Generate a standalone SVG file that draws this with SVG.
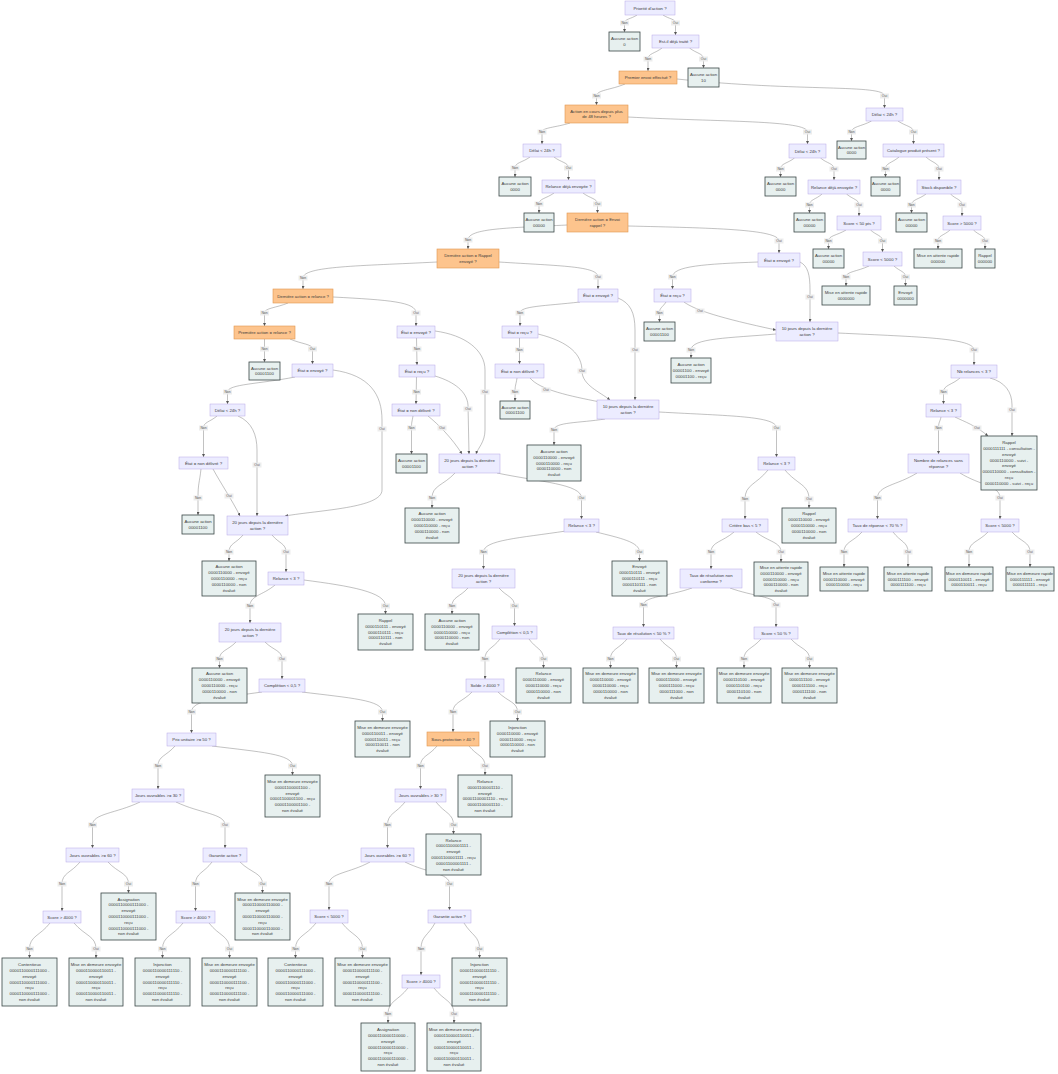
<svg xmlns="http://www.w3.org/2000/svg" width="1058" height="1074" viewBox="0 0 1058 1074">
<defs>
<marker id="arr" viewBox="0 0 6 6" refX="6" refY="3" markerWidth="3" markerHeight="3" markerUnits="userSpaceOnUse" orient="auto"><path d="M0,0L6,3L0,6z" fill="#555"/></marker>
<style>
.d rect{fill:#ECECFF;stroke:#B7A8E6;stroke-width:.5}
.o rect{fill:#FDC48D;stroke:#E2964F;stroke-width:.6}
.l rect{fill:#E7F0EF;stroke:#3A4646;stroke-width:.8}
text{font-family:"Liberation Sans",Arial,sans-serif;font-size:4.3px;fill:#3a3a3a;text-anchor:middle}
#edges path{fill:none;stroke:#777;stroke-width:.45;marker-end:url(#arr)}
.lb rect{fill:#EBEBEB;opacity:.9}
.lb text{font-size:3.4px;fill:#555}
</style>
</defs>
<rect width="1058" height="1074" fill="#fff"/>
<g id="edges">
<path d="M637,15 C631,19 624.5,19 624.5,23 L624.5,32"/>
<path d="M663,15 C669,19 675.5,19 675.5,23 L675.5,35"/>
<path d="M662,48 C655,53.5 648,53.5 648,59 L648,71"/>
<path d="M689.5,48 C696.5,53.5 703.5,53.5 703.5,59 L703.5,68"/>
<path d="M625,84 C610.75,90 596.5,90 596.5,96 L596.5,105"/>
<path d="M677,79 C800,92 884.5,84 884.5,96 L884.5,108"/>
<path d="M570,123 C556,127.5 542,127.5 542,132 L542,144"/>
<path d="M628,117 C720,122 807.5,120 807.5,132 L807.5,144"/>
<path d="M530,157 C522.5,162.5 515,162.5 515,168 L515,177"/>
<path d="M554,157 C561,162.5 568.5,162.5 568.5,168 L568.5,180"/>
<path d="M554,193 C546.5,198.5 539,198.5 539,204 L539,213"/>
<path d="M583,193 C590,198.5 597.5,198.5 597.5,204 L597.5,213"/>
<path d="M567,225 C510,228 468,228 468,240 L468,249"/>
<path d="M628,226 C710,228 779,229 779,241 L779,253"/>
<path d="M871.5,121 C861.5,126.5 851.5,126.5 851.5,132 L851.5,141"/>
<path d="M898,121 C906,126.5 913.5,126.5 913.5,132 L913.5,144"/>
<path d="M794.5,158 C787.5,163.5 780.5,163.5 780.5,169 L780.5,177"/>
<path d="M820.5,158 C827,163.5 834,163.5 834,169 L834,180"/>
<path d="M899,157 C892,163 885.5,163 885.5,169 L885.5,177"/>
<path d="M926,157 C932.5,163 939,163 939,169 L939,180"/>
<path d="M822,194 C816,199.5 809.5,199.5 809.5,205 L809.5,213"/>
<path d="M846.5,194 C853,199.5 859,199.5 859,205 L859,216"/>
<path d="M926,194 C919,199.5 911.5,199.5 911.5,205 L911.5,213"/>
<path d="M950.5,194 C956,199.5 962,199.5 962,205 L962,216"/>
<path d="M846,230 C837,235.5 828.5,235.5 828.5,241 L828.5,249"/>
<path d="M870.5,230 C876.5,235.5 882.5,235.5 882.5,241 L882.5,252"/>
<path d="M950,230 C944,235.5 938,235.5 938,241 L938,249"/>
<path d="M973.5,230 C979,235.5 985,235.5 985,241 L985,249"/>
<path d="M869,266 C857.5,271.5 846,271.5 846,277 L846,286"/>
<path d="M894,266 C900,271.5 905.5,271.5 905.5,277 L905.5,286"/>
<path d="M758,262 C705,264 672.5,266 672.5,277 L672.5,289"/>
<path d="M800,262 C808,266 810,275 810,290 L810,322"/>
<path d="M437,262 C360,266 303,266 303,278 L303,289"/>
<path d="M499,262 C560,266 598,266 598,277 L598,289"/>
<path d="M580,302 C545,306 520,306 520,313 L520,326"/>
<path d="M618,298 C630,303 635,312 635,330 L635,400"/>
<path d="M666,302 C662.5,307.5 659.5,307.5 659.5,313 L659.5,322"/>
<path d="M684,302 C695,310 720,318 776,330"/>
<path d="M776,334 C730,338 691,338 691,350 L691,358"/>
<path d="M838,333 C920,337 974,338 974,350 L974,365"/>
<path d="M519.5,338 L519.5,364"/>
<path d="M538,334 C570,342 582,355 582,371 C582,385 600,392 610,400"/>
<path d="M517,378 C516,385 515,385 515,392 L515,401"/>
<path d="M530,378 C540,390 570,396 600,402"/>
<path d="M605,419 C580,423 554,422 554,430 L554,445"/>
<path d="M659,412 C730,416 776.5,416 776.5,428 L776.5,457"/>
<path d="M768,470 C756.5,484.5 745,484.5 745,499 L745,519"/>
<path d="M785,470 C797,484.5 809,484.5 809,499 L809,508"/>
<path d="M734,532 C722.5,542 711,542 711,552 L711,569"/>
<path d="M756,532 C768.5,542 781,542 781,552 L781,562"/>
<path d="M692,588 C668,596.5 643.5,596.5 643.5,605 L643.5,627"/>
<path d="M730,588 C753,596.5 776,596.5 776,605 L776,627"/>
<path d="M627,639 C619,649 610.5,649 610.5,659 L610.5,668"/>
<path d="M660,639 C668,649 676.5,649 676.5,659 L676.5,668"/>
<path d="M761,639 C752.5,649 744,649 744,659 L744,668"/>
<path d="M791,639 C800,649 809.5,649 809.5,659 L809.5,668"/>
<path d="M960,378 C952,385 943.5,385 943.5,392 L943.5,404"/>
<path d="M990,378 C1005,382 1012,392 1012,405 L1012,436"/>
<path d="M941,417 C940,422 938.5,422 938.5,428 L938.5,454"/>
<path d="M955,417 C965,422 975,425 988,436"/>
<path d="M917,473 C897,485.5 877.5,485.5 877.5,498 L877.5,519"/>
<path d="M960,473 C980,485.5 1000,485.5 1000,498 L1000,519"/>
<path d="M862,532 C853,542 844,542 844,552 L844,567"/>
<path d="M893,532 C900.5,542 908,542 908,552 L908,567"/>
<path d="M988,532 C978.5,542 969,542 969,552 L969,567"/>
<path d="M1012,532 C1021,542 1030,542 1030,552 L1030,567"/>
<path d="M288,303 C276,308 264.5,308 264.5,313 L264.5,326"/>
<path d="M333,297 C390,300 416,302 416,313 L416,326"/>
<path d="M264.5,339 L264.5,362"/>
<path d="M290,339 C301,344 312.5,344 312.5,349 L312.5,364"/>
<path d="M295,377 C260,384 227.5,384 227.5,392 L227.5,404"/>
<path d="M333,370 C370,375 382,395 382,420 L382,490 C382,508 320,510 285,516"/>
<path d="M217,416 C210,422 203.5,422 203.5,428 L203.5,457"/>
<path d="M238,416 C252,422 257,435 257,450 L257,516"/>
<path d="M201,469 C199.5,483 198,483 198,498 L198,515"/>
<path d="M213,469 C220,482 232,500 240,516"/>
<path d="M416.5,338 L417,365"/>
<path d="M435,331 C465,335 485,350 485,370 L485,430 C485,442 478,448 476,454"/>
<path d="M416.5,377 L416,404"/>
<path d="M435,376 C455,382 467,392 468,405 L469,454"/>
<path d="M413,416 C412,422 411.5,422 411.5,428 L411.5,454"/>
<path d="M428,416 C438,424 452,438 462,454"/>
<path d="M455,473 C443.5,485.5 432,485.5 432,498 L432,508"/>
<path d="M497,473 C540,482 581.5,484 581.5,498 L581.5,519"/>
<path d="M566,531 C520,538 483.5,540 483.5,552 L483.5,569"/>
<path d="M596,532 C620,538 639.5,542 639.5,552 L639.5,561"/>
<path d="M468,588 C460,597 452,597 452,606 L452,614"/>
<path d="M499,588 C507,597 514.5,597 514.5,606 L514.5,626"/>
<path d="M500,639 C492.5,649 485,649 485,659 L485,679"/>
<path d="M529,639 C536,649 543.5,649 543.5,659 L543.5,668"/>
<path d="M472,692 C462.5,702 453,702 453,712 L453,732"/>
<path d="M498,692 C508,702 517.5,702 517.5,712 L517.5,721"/>
<path d="M437,746 C429,756 420.5,756 420.5,766 L420.5,789"/>
<path d="M469,746 C477,756 485,756 485,766 L485,775"/>
<path d="M405,802 C396,813.5 387.5,813.5 387.5,825 L387.5,848"/>
<path d="M436,802 C445,813.5 453.5,813.5 453.5,825 L453.5,834"/>
<path d="M370,862 C350,873 329,873 329,884 L329,910"/>
<path d="M405,862 C427,873 449.5,873 449.5,884 L449.5,910"/>
<path d="M316,923 C306,936 295.5,936 295.5,949 L295.5,958"/>
<path d="M342,923 C352,936 362.5,936 362.5,949 L362.5,958"/>
<path d="M435,923 C428,936 421,936 421,949 L421,975"/>
<path d="M464,923 C472,936 479.5,936 479.5,949 L479.5,958"/>
<path d="M408,988 C398,1001 388,1001 388,1014 L388,1023"/>
<path d="M434,988 C444,1001 454,1001 454,1014 L454,1023"/>
<path d="M243,535 C236,543.5 229,543.5 229,552 L229,561"/>
<path d="M272,535 C279,543.5 286,543.5 286,552 L286,572"/>
<path d="M275,585 C262.5,595.5 250,595.5 250,606 L250,623"/>
<path d="M304,580 C350,586 385.5,592 385.5,606 L385.5,614"/>
<path d="M236,642 C228,650.5 219.5,650.5 219.5,659 L219.5,668"/>
<path d="M265,642 C273.5,650.5 282,650.5 282,659 L282,679"/>
<path d="M262,692 C220,698 191.5,700 191.5,712 L191.5,733"/>
<path d="M302,692 C350,698 382.5,700 382.5,712 L382.5,721"/>
<path d="M175,746 C166.5,756 158,756 158,766 L158,789"/>
<path d="M212,746 C260,752 292.5,754 292.5,766 L292.5,775"/>
<path d="M140,802 C116,813.5 92.5,813.5 92.5,825 L92.5,848"/>
<path d="M176,802 C200,813.5 225,813.5 225,825 L225,848"/>
<path d="M80,862 C71,873 62,873 62,884 L62,911"/>
<path d="M108,862 C118,873 128.5,873 128.5,884 L128.5,893"/>
<path d="M212,862 C204,873 195.5,873 195.5,884 L195.5,911"/>
<path d="M240,862 C251,873 262.5,873 262.5,884 L262.5,893"/>
<path d="M50,923 C40,936 29.5,936 29.5,949 L29.5,958"/>
<path d="M74,923 C85,936 96,936 96,949 L96,958"/>
<path d="M183,923 C173,936 162.5,936 162.5,949 L162.5,958"/>
<path d="M209,923 C219,936 229.5,936 229.5,949 L229.5,958"/>
</g>
<g id="edge-labels" class="lb">
<g transform="translate(624.5,23)"><rect x="-4.5" y="-2.5" width="9" height="5"/><text y="1.2">Non</text></g>
<g transform="translate(675.5,23)"><rect x="-4.5" y="-2.5" width="9" height="5"/><text y="1.2">Oui</text></g>
<g transform="translate(648,59)"><rect x="-4.5" y="-2.5" width="9" height="5"/><text y="1.2">Non</text></g>
<g transform="translate(703.5,59)"><rect x="-4.5" y="-2.5" width="9" height="5"/><text y="1.2">Oui</text></g>
<g transform="translate(596.5,96)"><rect x="-4.5" y="-2.5" width="9" height="5"/><text y="1.2">Non</text></g>
<g transform="translate(884.5,96)"><rect x="-4.5" y="-2.5" width="9" height="5"/><text y="1.2">Oui</text></g>
<g transform="translate(542,132)"><rect x="-4.5" y="-2.5" width="9" height="5"/><text y="1.2">Non</text></g>
<g transform="translate(807.5,132)"><rect x="-4.5" y="-2.5" width="9" height="5"/><text y="1.2">Oui</text></g>
<g transform="translate(515,168)"><rect x="-4.5" y="-2.5" width="9" height="5"/><text y="1.2">Non</text></g>
<g transform="translate(568.5,168)"><rect x="-4.5" y="-2.5" width="9" height="5"/><text y="1.2">Oui</text></g>
<g transform="translate(539,204)"><rect x="-4.5" y="-2.5" width="9" height="5"/><text y="1.2">Non</text></g>
<g transform="translate(597.5,204)"><rect x="-4.5" y="-2.5" width="9" height="5"/><text y="1.2">Oui</text></g>
<g transform="translate(468,240)"><rect x="-4.5" y="-2.5" width="9" height="5"/><text y="1.2">Non</text></g>
<g transform="translate(779,241)"><rect x="-4.5" y="-2.5" width="9" height="5"/><text y="1.2">Oui</text></g>
<g transform="translate(851.5,132)"><rect x="-4.5" y="-2.5" width="9" height="5"/><text y="1.2">Non</text></g>
<g transform="translate(913.5,132)"><rect x="-4.5" y="-2.5" width="9" height="5"/><text y="1.2">Oui</text></g>
<g transform="translate(780.5,169)"><rect x="-4.5" y="-2.5" width="9" height="5"/><text y="1.2">Non</text></g>
<g transform="translate(834,169)"><rect x="-4.5" y="-2.5" width="9" height="5"/><text y="1.2">Oui</text></g>
<g transform="translate(885.5,169)"><rect x="-4.5" y="-2.5" width="9" height="5"/><text y="1.2">Non</text></g>
<g transform="translate(939,169)"><rect x="-4.5" y="-2.5" width="9" height="5"/><text y="1.2">Oui</text></g>
<g transform="translate(809.5,205)"><rect x="-4.5" y="-2.5" width="9" height="5"/><text y="1.2">Non</text></g>
<g transform="translate(859,205)"><rect x="-4.5" y="-2.5" width="9" height="5"/><text y="1.2">Oui</text></g>
<g transform="translate(911.5,205)"><rect x="-4.5" y="-2.5" width="9" height="5"/><text y="1.2">Non</text></g>
<g transform="translate(962,205)"><rect x="-4.5" y="-2.5" width="9" height="5"/><text y="1.2">Oui</text></g>
<g transform="translate(828.5,241)"><rect x="-4.5" y="-2.5" width="9" height="5"/><text y="1.2">Non</text></g>
<g transform="translate(882.5,241)"><rect x="-4.5" y="-2.5" width="9" height="5"/><text y="1.2">Oui</text></g>
<g transform="translate(938,241)"><rect x="-4.5" y="-2.5" width="9" height="5"/><text y="1.2">Non</text></g>
<g transform="translate(985,241)"><rect x="-4.5" y="-2.5" width="9" height="5"/><text y="1.2">Oui</text></g>
<g transform="translate(846,277)"><rect x="-4.5" y="-2.5" width="9" height="5"/><text y="1.2">Non</text></g>
<g transform="translate(905.5,277)"><rect x="-4.5" y="-2.5" width="9" height="5"/><text y="1.2">Oui</text></g>
<g transform="translate(672.5,277)"><rect x="-4.5" y="-2.5" width="9" height="5"/><text y="1.2">Non</text></g>
<g transform="translate(810,297)"><rect x="-4.5" y="-2.5" width="9" height="5"/><text y="1.2">Oui</text></g>
<g transform="translate(303,278)"><rect x="-4.5" y="-2.5" width="9" height="5"/><text y="1.2">Non</text></g>
<g transform="translate(598,277)"><rect x="-4.5" y="-2.5" width="9" height="5"/><text y="1.2">Oui</text></g>
<g transform="translate(520,313)"><rect x="-4.5" y="-2.5" width="9" height="5"/><text y="1.2">Non</text></g>
<g transform="translate(635,350)"><rect x="-4.5" y="-2.5" width="9" height="5"/><text y="1.2">Oui</text></g>
<g transform="translate(659.5,313)"><rect x="-4.5" y="-2.5" width="9" height="5"/><text y="1.2">Non</text></g>
<g transform="translate(700,311)"><rect x="-4.5" y="-2.5" width="9" height="5"/><text y="1.2">Oui</text></g>
<g transform="translate(691,350)"><rect x="-4.5" y="-2.5" width="9" height="5"/><text y="1.2">Non</text></g>
<g transform="translate(974,350)"><rect x="-4.5" y="-2.5" width="9" height="5"/><text y="1.2">Oui</text></g>
<g transform="translate(519.5,350)"><rect x="-4.5" y="-2.5" width="9" height="5"/><text y="1.2">Non</text></g>
<g transform="translate(582,371)"><rect x="-4.5" y="-2.5" width="9" height="5"/><text y="1.2">Oui</text></g>
<g transform="translate(515,392)"><rect x="-4.5" y="-2.5" width="9" height="5"/><text y="1.2">Non</text></g>
<g transform="translate(546,390)"><rect x="-4.5" y="-2.5" width="9" height="5"/><text y="1.2">Oui</text></g>
<g transform="translate(554,430)"><rect x="-4.5" y="-2.5" width="9" height="5"/><text y="1.2">Non</text></g>
<g transform="translate(776.5,428)"><rect x="-4.5" y="-2.5" width="9" height="5"/><text y="1.2">Oui</text></g>
<g transform="translate(745,499)"><rect x="-4.5" y="-2.5" width="9" height="5"/><text y="1.2">Non</text></g>
<g transform="translate(809,499)"><rect x="-4.5" y="-2.5" width="9" height="5"/><text y="1.2">Oui</text></g>
<g transform="translate(711,552)"><rect x="-4.5" y="-2.5" width="9" height="5"/><text y="1.2">Non</text></g>
<g transform="translate(781,552)"><rect x="-4.5" y="-2.5" width="9" height="5"/><text y="1.2">Oui</text></g>
<g transform="translate(643.5,605)"><rect x="-4.5" y="-2.5" width="9" height="5"/><text y="1.2">Non</text></g>
<g transform="translate(776,605)"><rect x="-4.5" y="-2.5" width="9" height="5"/><text y="1.2">Oui</text></g>
<g transform="translate(610.5,659)"><rect x="-4.5" y="-2.5" width="9" height="5"/><text y="1.2">Non</text></g>
<g transform="translate(676.5,659)"><rect x="-4.5" y="-2.5" width="9" height="5"/><text y="1.2">Oui</text></g>
<g transform="translate(744,659)"><rect x="-4.5" y="-2.5" width="9" height="5"/><text y="1.2">Non</text></g>
<g transform="translate(809.5,659)"><rect x="-4.5" y="-2.5" width="9" height="5"/><text y="1.2">Oui</text></g>
<g transform="translate(943.5,392)"><rect x="-4.5" y="-2.5" width="9" height="5"/><text y="1.2">Non</text></g>
<g transform="translate(1012,410)"><rect x="-4.5" y="-2.5" width="9" height="5"/><text y="1.2">Oui</text></g>
<g transform="translate(938.5,428)"><rect x="-4.5" y="-2.5" width="9" height="5"/><text y="1.2">Non</text></g>
<g transform="translate(977,428)"><rect x="-4.5" y="-2.5" width="9" height="5"/><text y="1.2">Oui</text></g>
<g transform="translate(877.5,498)"><rect x="-4.5" y="-2.5" width="9" height="5"/><text y="1.2">Non</text></g>
<g transform="translate(1000,498)"><rect x="-4.5" y="-2.5" width="9" height="5"/><text y="1.2">Oui</text></g>
<g transform="translate(844,552)"><rect x="-4.5" y="-2.5" width="9" height="5"/><text y="1.2">Non</text></g>
<g transform="translate(908,552)"><rect x="-4.5" y="-2.5" width="9" height="5"/><text y="1.2">Oui</text></g>
<g transform="translate(969,552)"><rect x="-4.5" y="-2.5" width="9" height="5"/><text y="1.2">Non</text></g>
<g transform="translate(1030,552)"><rect x="-4.5" y="-2.5" width="9" height="5"/><text y="1.2">Oui</text></g>
<g transform="translate(264.5,313)"><rect x="-4.5" y="-2.5" width="9" height="5"/><text y="1.2">Non</text></g>
<g transform="translate(416,313)"><rect x="-4.5" y="-2.5" width="9" height="5"/><text y="1.2">Oui</text></g>
<g transform="translate(264.5,349)"><rect x="-4.5" y="-2.5" width="9" height="5"/><text y="1.2">Non</text></g>
<g transform="translate(312.5,349)"><rect x="-4.5" y="-2.5" width="9" height="5"/><text y="1.2">Oui</text></g>
<g transform="translate(227.5,392)"><rect x="-4.5" y="-2.5" width="9" height="5"/><text y="1.2">Non</text></g>
<g transform="translate(382,429)"><rect x="-4.5" y="-2.5" width="9" height="5"/><text y="1.2">Oui</text></g>
<g transform="translate(203.5,428)"><rect x="-4.5" y="-2.5" width="9" height="5"/><text y="1.2">Non</text></g>
<g transform="translate(257,465)"><rect x="-4.5" y="-2.5" width="9" height="5"/><text y="1.2">Oui</text></g>
<g transform="translate(198,498)"><rect x="-4.5" y="-2.5" width="9" height="5"/><text y="1.2">Non</text></g>
<g transform="translate(229,496)"><rect x="-4.5" y="-2.5" width="9" height="5"/><text y="1.2">Oui</text></g>
<g transform="translate(417,349)"><rect x="-4.5" y="-2.5" width="9" height="5"/><text y="1.2">Non</text></g>
<g transform="translate(485,392)"><rect x="-4.5" y="-2.5" width="9" height="5"/><text y="1.2">Oui</text></g>
<g transform="translate(416.5,392)"><rect x="-4.5" y="-2.5" width="9" height="5"/><text y="1.2">Non</text></g>
<g transform="translate(468,409)"><rect x="-4.5" y="-2.5" width="9" height="5"/><text y="1.2">Oui</text></g>
<g transform="translate(411.5,428)"><rect x="-4.5" y="-2.5" width="9" height="5"/><text y="1.2">Non</text></g>
<g transform="translate(442,428)"><rect x="-4.5" y="-2.5" width="9" height="5"/><text y="1.2">Oui</text></g>
<g transform="translate(432,498)"><rect x="-4.5" y="-2.5" width="9" height="5"/><text y="1.2">Non</text></g>
<g transform="translate(581.5,498)"><rect x="-4.5" y="-2.5" width="9" height="5"/><text y="1.2">Oui</text></g>
<g transform="translate(483.5,552)"><rect x="-4.5" y="-2.5" width="9" height="5"/><text y="1.2">Non</text></g>
<g transform="translate(639.5,552)"><rect x="-4.5" y="-2.5" width="9" height="5"/><text y="1.2">Oui</text></g>
<g transform="translate(452,606)"><rect x="-4.5" y="-2.5" width="9" height="5"/><text y="1.2">Non</text></g>
<g transform="translate(514.5,606)"><rect x="-4.5" y="-2.5" width="9" height="5"/><text y="1.2">Oui</text></g>
<g transform="translate(485,659)"><rect x="-4.5" y="-2.5" width="9" height="5"/><text y="1.2">Non</text></g>
<g transform="translate(543.5,659)"><rect x="-4.5" y="-2.5" width="9" height="5"/><text y="1.2">Oui</text></g>
<g transform="translate(453,712)"><rect x="-4.5" y="-2.5" width="9" height="5"/><text y="1.2">Non</text></g>
<g transform="translate(517.5,712)"><rect x="-4.5" y="-2.5" width="9" height="5"/><text y="1.2">Oui</text></g>
<g transform="translate(420.5,766)"><rect x="-4.5" y="-2.5" width="9" height="5"/><text y="1.2">Non</text></g>
<g transform="translate(485,766)"><rect x="-4.5" y="-2.5" width="9" height="5"/><text y="1.2">Oui</text></g>
<g transform="translate(387.5,825)"><rect x="-4.5" y="-2.5" width="9" height="5"/><text y="1.2">Non</text></g>
<g transform="translate(453.5,825)"><rect x="-4.5" y="-2.5" width="9" height="5"/><text y="1.2">Oui</text></g>
<g transform="translate(329,884)"><rect x="-4.5" y="-2.5" width="9" height="5"/><text y="1.2">Non</text></g>
<g transform="translate(449.5,884)"><rect x="-4.5" y="-2.5" width="9" height="5"/><text y="1.2">Oui</text></g>
<g transform="translate(295.5,949)"><rect x="-4.5" y="-2.5" width="9" height="5"/><text y="1.2">Non</text></g>
<g transform="translate(362.5,949)"><rect x="-4.5" y="-2.5" width="9" height="5"/><text y="1.2">Oui</text></g>
<g transform="translate(421,949)"><rect x="-4.5" y="-2.5" width="9" height="5"/><text y="1.2">Non</text></g>
<g transform="translate(479.5,949)"><rect x="-4.5" y="-2.5" width="9" height="5"/><text y="1.2">Oui</text></g>
<g transform="translate(388,1014)"><rect x="-4.5" y="-2.5" width="9" height="5"/><text y="1.2">Non</text></g>
<g transform="translate(454,1014)"><rect x="-4.5" y="-2.5" width="9" height="5"/><text y="1.2">Oui</text></g>
<g transform="translate(229,552)"><rect x="-4.5" y="-2.5" width="9" height="5"/><text y="1.2">Non</text></g>
<g transform="translate(286,552)"><rect x="-4.5" y="-2.5" width="9" height="5"/><text y="1.2">Oui</text></g>
<g transform="translate(250,606)"><rect x="-4.5" y="-2.5" width="9" height="5"/><text y="1.2">Non</text></g>
<g transform="translate(385.5,606)"><rect x="-4.5" y="-2.5" width="9" height="5"/><text y="1.2">Oui</text></g>
<g transform="translate(219.5,659)"><rect x="-4.5" y="-2.5" width="9" height="5"/><text y="1.2">Non</text></g>
<g transform="translate(282,659)"><rect x="-4.5" y="-2.5" width="9" height="5"/><text y="1.2">Oui</text></g>
<g transform="translate(191.5,712)"><rect x="-4.5" y="-2.5" width="9" height="5"/><text y="1.2">Non</text></g>
<g transform="translate(382.5,712)"><rect x="-4.5" y="-2.5" width="9" height="5"/><text y="1.2">Oui</text></g>
<g transform="translate(158,766)"><rect x="-4.5" y="-2.5" width="9" height="5"/><text y="1.2">Non</text></g>
<g transform="translate(292.5,766)"><rect x="-4.5" y="-2.5" width="9" height="5"/><text y="1.2">Oui</text></g>
<g transform="translate(92.5,825)"><rect x="-4.5" y="-2.5" width="9" height="5"/><text y="1.2">Non</text></g>
<g transform="translate(225,825)"><rect x="-4.5" y="-2.5" width="9" height="5"/><text y="1.2">Oui</text></g>
<g transform="translate(62,884)"><rect x="-4.5" y="-2.5" width="9" height="5"/><text y="1.2">Non</text></g>
<g transform="translate(128.5,884)"><rect x="-4.5" y="-2.5" width="9" height="5"/><text y="1.2">Oui</text></g>
<g transform="translate(195.5,884)"><rect x="-4.5" y="-2.5" width="9" height="5"/><text y="1.2">Non</text></g>
<g transform="translate(262.5,884)"><rect x="-4.5" y="-2.5" width="9" height="5"/><text y="1.2">Oui</text></g>
<g transform="translate(29.5,949)"><rect x="-4.5" y="-2.5" width="9" height="5"/><text y="1.2">Non</text></g>
<g transform="translate(96,949)"><rect x="-4.5" y="-2.5" width="9" height="5"/><text y="1.2">Oui</text></g>
<g transform="translate(162.5,949)"><rect x="-4.5" y="-2.5" width="9" height="5"/><text y="1.2">Non</text></g>
<g transform="translate(229.5,949)"><rect x="-4.5" y="-2.5" width="9" height="5"/><text y="1.2">Oui</text></g>
</g>
<g id="nodes">
<g id="n1" class="d"><rect x="625" y="1" width="50" height="14"/><text x="650" y="9.5">Priorité d'action ?</text></g>
<g id="n2" class="l"><rect x="609" y="32" width="31" height="19"/><text><tspan x="624.5" y="40.1">Aucune action</tspan><tspan x="624.5" y="45.9">0</tspan></text></g>
<g id="n3" class="d"><rect x="652" y="35" width="47" height="13"/><text x="675.5" y="43">Est-il déjà traité ?</text></g>
<g id="n4" class="o"><rect x="619" y="71" width="58" height="13"/><text x="648" y="79">Premier envoi effectué ?</text></g>
<g id="n5" class="l"><rect x="688" y="68" width="31" height="19"/><text><tspan x="703.5" y="76.1">Aucune action</tspan><tspan x="703.5" y="81.9">10</tspan></text></g>
<g id="n6" class="o"><rect x="565" y="105" width="63" height="18"/><text><tspan x="596.5" y="112.9">Action en cours depuis plus</tspan><tspan x="596.5" y="118.1">de 48 heures ?</tspan></text></g>
<g id="n7" class="d"><rect x="523" y="144" width="38" height="13"/><text x="542" y="152">Délai &lt; 24h ?</text></g>
<g id="n8" class="l"><rect x="499" y="177" width="32" height="19"/><text><tspan x="515" y="185.1">Aucune action</tspan><tspan x="515" y="190.9">0000</tspan></text></g>
<g id="n9" class="d"><rect x="542" y="180" width="53" height="13"/><text x="568.5" y="188">Relance déjà envoyée ?</text></g>
<g id="n10" class="l"><rect x="524" y="213" width="30" height="19"/><text><tspan x="539" y="221.1">Aucune action</tspan><tspan x="539" y="226.9">00000</tspan></text></g>
<g id="n11" class="o"><rect x="567" y="213" width="61" height="19"/><text><tspan x="597.5" y="221.4">Dernière action = Envoi</tspan><tspan x="597.5" y="226.6">rappel ?</tspan></text></g>
<g id="n12" class="d"><rect x="866" y="108" width="37" height="13"/><text x="884.5" y="116">Délai &lt; 24h ?</text></g>
<g id="n13" class="l"><rect x="837" y="141" width="29" height="18"/><text><tspan x="851.5" y="148.6">Aucune action</tspan><tspan x="851.5" y="154.4">0000</tspan></text></g>
<g id="n14" class="d"><rect x="883" y="144" width="61" height="13"/><text x="913.5" y="152">Catalogue produit présent ?</text></g>
<g id="n15" class="d"><rect x="789" y="144" width="37" height="14"/><text x="807.5" y="152.5">Délai &lt; 24h ?</text></g>
<g id="n16" class="l"><rect x="765" y="177" width="31" height="19"/><text><tspan x="780.5" y="185.1">Aucune action</tspan><tspan x="780.5" y="190.9">0000</tspan></text></g>
<g id="n17" class="d"><rect x="808" y="180" width="52" height="14"/><text x="834" y="188.5">Relance déjà envoyée ?</text></g>
<g id="n18" class="l"><rect x="871" y="177" width="29" height="19"/><text><tspan x="885.5" y="185.1">Aucune action</tspan><tspan x="885.5" y="190.9">0000</tspan></text></g>
<g id="n19" class="d"><rect x="917" y="180" width="44" height="14"/><text x="939" y="188.5">Stock disponible ?</text></g>
<g id="n20" class="l"><rect x="794" y="213" width="31" height="19"/><text><tspan x="809.5" y="221.1">Aucune action</tspan><tspan x="809.5" y="226.9">00000</tspan></text></g>
<g id="n21" class="d"><rect x="837" y="216" width="44" height="14"/><text x="859" y="224.5">Score &lt; 50 pts ?</text></g>
<g id="n22" class="l"><rect x="896" y="213" width="31" height="19"/><text><tspan x="911.5" y="221.1">Aucune action</tspan><tspan x="911.5" y="226.9">00000</tspan></text></g>
<g id="n23" class="d"><rect x="943" y="216" width="38" height="14"/><text x="962" y="224.5">Score &gt; 5000 ?</text></g>
<g id="n24" class="l"><rect x="813" y="249" width="31" height="19"/><text><tspan x="828.5" y="257.1">Aucune action</tspan><tspan x="828.5" y="262.9">00000</tspan></text></g>
<g id="n25" class="d"><rect x="863" y="252" width="39" height="14"/><text x="882.5" y="260.5">Score &lt; 5000 ?</text></g>
<g id="n26" class="l"><rect x="914" y="249" width="48" height="19"/><text><tspan x="938" y="257.1">Mise en attente rapide</tspan><tspan x="938" y="262.9">000000</tspan></text></g>
<g id="n27" class="l"><rect x="975" y="249" width="20" height="19"/><text><tspan x="985" y="257.1">Rappel</tspan><tspan x="985" y="262.9">000000</tspan></text></g>
<g id="n28" class="l"><rect x="822" y="286" width="48" height="19"/><text><tspan x="846" y="294.1">Mise en attente rapide</tspan><tspan x="846" y="299.9">0000000</tspan></text></g>
<g id="n29" class="l"><rect x="894" y="286" width="23" height="19"/><text><tspan x="905.5" y="294.1">Envoyé</tspan><tspan x="905.5" y="299.9">0000000</tspan></text></g>
<g id="n30" class="d"><rect x="758" y="253" width="42" height="14"/><text x="779" y="261.5">État = envoyé ?</text></g>
<g id="n31" class="o"><rect x="437" y="249" width="62" height="19"/><text><tspan x="468" y="257.4">Dernière action = Rappel</tspan><tspan x="468" y="262.6">envoyé ?</tspan></text></g>
<g id="n32" class="d"><rect x="578" y="289" width="40" height="13"/><text x="598" y="297">État = envoyé ?</text></g>
<g id="n33" class="d"><rect x="776" y="322" width="62" height="19"/><text><tspan x="807" y="330.4">10 jours depuis la dernière</tspan><tspan x="807" y="335.6">action ?</tspan></text></g>
<g id="n34" class="d"><rect x="654" y="289" width="37" height="13"/><text x="672.5" y="297">État = reçu ?</text></g>
<g id="n35" class="l"><rect x="644" y="322" width="31" height="19"/><text><tspan x="659.5" y="330.1">Aucune action</tspan><tspan x="659.5" y="335.9">00001100</tspan></text></g>
<g id="n36" class="l"><rect x="671" y="358" width="40" height="25"/><text><tspan x="691" y="366.2">Aucune action</tspan><tspan x="691" y="372">00001100 - envoyé</tspan><tspan x="691" y="377.8">00001100 - reçu</tspan></text></g>
<g id="n37" class="d"><rect x="502" y="326" width="36" height="12"/><text x="520" y="333.5">État = reçu ?</text></g>
<g id="n38" class="d"><rect x="495" y="364" width="49" height="14"/><text x="519.5" y="372.5">État = non délivré ?</text></g>
<g id="n39" class="l"><rect x="500" y="401" width="30" height="18"/><text><tspan x="515" y="408.6">Aucune action</tspan><tspan x="515" y="414.4">00001100</tspan></text></g>
<g id="n40" class="d"><rect x="597" y="400" width="62" height="19"/><text><tspan x="628" y="408.4">10 jours depuis la dernière</tspan><tspan x="628" y="413.6">action ?</tspan></text></g>
<g id="n41" class="l"><rect x="527" y="445" width="54" height="36"/><text><tspan x="554" y="452.9">Aucune action</tspan><tspan x="554" y="458.7">0000110000 - envoyé</tspan><tspan x="554" y="464.5">0000110000 - reçu</tspan><tspan x="554" y="470.3">0000110000 - non</tspan><tspan x="554" y="476.1">évalué</tspan></text></g>
<g id="n42" class="d"><rect x="758" y="457" width="37" height="13"/><text x="776.5" y="465">Relance &lt; 3 ?</text></g>
<g id="n43" class="d"><rect x="951" y="365" width="46" height="13"/><text x="974" y="373">Nb relances &lt; 3 ?</text></g>
<g id="n44" class="d"><rect x="926" y="404" width="35" height="13"/><text x="943.5" y="412">Relance &lt; 3 ?</text></g>
<g id="n45" class="l"><rect x="981" y="436" width="56" height="54"/><text><tspan x="1009" y="444.2">Rappel</tspan><tspan x="1009" y="450">0000111111 - consultation -</tspan><tspan x="1009" y="455.8">envoyé</tspan><tspan x="1009" y="461.6">0000110000 - suivi -</tspan><tspan x="1009" y="467.4">envoyé</tspan><tspan x="1009" y="473.2">0000110000 - consultation -</tspan><tspan x="1009" y="479">reçu</tspan><tspan x="1009" y="484.8">0000110000 - suivi - reçu</tspan></text></g>
<g id="n46" class="d"><rect x="908" y="454" width="61" height="19"/><text><tspan x="938.5" y="462.4">Nombre de relances sans</tspan><tspan x="938.5" y="467.6">réponse ?</tspan></text></g>
<g id="n47" class="d"><rect x="848" y="519" width="59" height="13"/><text x="877.5" y="527">Taux de réponse &lt; 70 % ?</text></g>
<g id="n48" class="d"><rect x="981" y="519" width="38" height="13"/><text x="1000" y="527">Score &lt; 5000 ?</text></g>
<g id="n49" class="l"><rect x="820" y="567" width="48" height="24"/><text><tspan x="844" y="574.7">Mise en attente rapide</tspan><tspan x="844" y="580.5">0000110000 - envoyé</tspan><tspan x="844" y="586.3">0000110000 - reçu</tspan></text></g>
<g id="n50" class="l"><rect x="884" y="567" width="48" height="24"/><text><tspan x="908" y="574.7">Mise en attente rapide</tspan><tspan x="908" y="580.5">0000111100 - envoyé</tspan><tspan x="908" y="586.3">0000111100 - reçu</tspan></text></g>
<g id="n51" class="l"><rect x="945" y="567" width="48" height="24"/><text><tspan x="969" y="574.7">Mise en demeure rapide</tspan><tspan x="969" y="580.5">0000110011 - envoyé</tspan><tspan x="969" y="586.3">0000110011 - reçu</tspan></text></g>
<g id="n52" class="l"><rect x="1006" y="567" width="48" height="24"/><text><tspan x="1030" y="574.7">Mise en demeure rapide</tspan><tspan x="1030" y="580.5">0000111111 - envoyé</tspan><tspan x="1030" y="586.3">0000111111 - reçu</tspan></text></g>
<g id="n53" class="d"><rect x="722" y="519" width="46" height="13"/><text x="745" y="527">Critère bas &lt; 5 ?</text></g>
<g id="n54" class="l"><rect x="782" y="508" width="54" height="35"/><text><tspan x="809" y="515.4">Rappel</tspan><tspan x="809" y="521.2">0000110000 - envoyé</tspan><tspan x="809" y="527">0000110000 - reçu</tspan><tspan x="809" y="532.8">0000110000 - non</tspan><tspan x="809" y="538.6">évalué</tspan></text></g>
<g id="n55" class="d"><rect x="680" y="569" width="62" height="19"/><text><tspan x="711" y="577.4">Taux de résolution non</tspan><tspan x="711" y="582.6">conforme ?</tspan></text></g>
<g id="n56" class="l"><rect x="754" y="562" width="54" height="34"/><text><tspan x="781" y="568.9">Mise en attente rapide</tspan><tspan x="781" y="574.7">0000110000 - envoyé</tspan><tspan x="781" y="580.5">0000110000 - reçu</tspan><tspan x="781" y="586.3">0000110000 - non</tspan><tspan x="781" y="592.1">évalué</tspan></text></g>
<g id="n57" class="d"><rect x="613" y="627" width="61" height="12"/><text x="643.5" y="634.5">Taux de résolution &lt; 50 % ?</text></g>
<g id="n58" class="d"><rect x="754" y="627" width="44" height="12"/><text x="776" y="634.5">Score &lt; 50 % ?</text></g>
<g id="n59" class="l"><rect x="583" y="668" width="55" height="35"/><text><tspan x="610.5" y="675.4">Mise en demeure envoyée</tspan><tspan x="610.5" y="681.2">0000110000 - envoyé</tspan><tspan x="610.5" y="687">0000110000 - reçu</tspan><tspan x="610.5" y="692.8">0000110000 - non</tspan><tspan x="610.5" y="698.6">évalué</tspan></text></g>
<g id="n60" class="l"><rect x="649" y="668" width="55" height="35"/><text><tspan x="676.5" y="675.4">Mise en demeure envoyée</tspan><tspan x="676.5" y="681.2">0000111000 - envoyé</tspan><tspan x="676.5" y="687">0000111000 - reçu</tspan><tspan x="676.5" y="692.8">0000111000 - non</tspan><tspan x="676.5" y="698.6">évalué</tspan></text></g>
<g id="n61" class="l"><rect x="717" y="668" width="54" height="35"/><text><tspan x="744" y="675.4">Mise en demeure envoyée</tspan><tspan x="744" y="681.2">0000110100 - envoyé</tspan><tspan x="744" y="687">0000110100 - reçu</tspan><tspan x="744" y="692.8">0000110100 - non</tspan><tspan x="744" y="698.6">évalué</tspan></text></g>
<g id="n62" class="l"><rect x="782" y="668" width="55" height="35"/><text><tspan x="809.5" y="675.4">Mise en demeure envoyée</tspan><tspan x="809.5" y="681.2">0000111100 - envoyé</tspan><tspan x="809.5" y="687">0000111100 - reçu</tspan><tspan x="809.5" y="692.8">0000111100 - non</tspan><tspan x="809.5" y="698.6">évalué</tspan></text></g>
<g id="n63" class="l"><rect x="612" y="561" width="55" height="35"/><text><tspan x="639.5" y="568.4">Envoyé</tspan><tspan x="639.5" y="574.2">0000110111 - envoyé</tspan><tspan x="639.5" y="580">0000110111 - reçu</tspan><tspan x="639.5" y="585.8">0000110111 - non</tspan><tspan x="639.5" y="591.6">évalué</tspan></text></g>
<g id="n64" class="l"><rect x="396" y="454" width="31" height="19"/><text><tspan x="411.5" y="462.1">Aucune action</tspan><tspan x="411.5" y="467.9">00001100</tspan></text></g>
<g id="n65" class="d"><rect x="439" y="454" width="61" height="19"/><text><tspan x="469.5" y="462.4">20 jours depuis la dernière</tspan><tspan x="469.5" y="467.6">action ?</tspan></text></g>
<g id="n67" class="l"><rect x="405" y="508" width="54" height="35"/><text><tspan x="432" y="515.4">Aucune action</tspan><tspan x="432" y="521.2">0000110000 - envoyé</tspan><tspan x="432" y="527">0000110000 - reçu</tspan><tspan x="432" y="532.8">0000110000 - non</tspan><tspan x="432" y="538.6">évalué</tspan></text></g>
<g id="n68" class="d"><rect x="564" y="519" width="35" height="13"/><text x="581.5" y="527">Relance &lt; 3 ?</text></g>
<g id="n69" class="d"><rect x="452" y="569" width="63" height="19"/><text><tspan x="483.5" y="577.4">20 jours depuis la dernière</tspan><tspan x="483.5" y="582.6">action ?</tspan></text></g>
<g id="n70" class="l"><rect x="425" y="614" width="54" height="36"/><text><tspan x="452" y="621.9">Aucune action</tspan><tspan x="452" y="627.7">0000110000 - envoyé</tspan><tspan x="452" y="633.5">0000110000 - reçu</tspan><tspan x="452" y="639.3">0000110000 - non</tspan><tspan x="452" y="645.1">évalué</tspan></text></g>
<g id="n71" class="d"><rect x="492" y="626" width="45" height="13"/><text x="514.5" y="634">Complétion &lt; 0,5 ?</text></g>
<g id="n72" class="d"><rect x="466" y="679" width="38" height="13"/><text x="485" y="687">Solde &gt; 4000 ?</text></g>
<g id="n73" class="l"><rect x="516" y="668" width="55" height="35"/><text><tspan x="543.5" y="675.4">Relance</tspan><tspan x="543.5" y="681.2">0000110000 - envoyé</tspan><tspan x="543.5" y="687">0000110000 - reçu</tspan><tspan x="543.5" y="692.8">0000110000 - non</tspan><tspan x="543.5" y="698.6">évalué</tspan></text></g>
<g id="n74" class="o"><rect x="427" y="732" width="52" height="14"/><text x="453" y="740.5">Sous-protection &gt; 40 ?</text></g>
<g id="n75" class="l"><rect x="490" y="721" width="55" height="36"/><text><tspan x="517.5" y="728.9">Injonction</tspan><tspan x="517.5" y="734.7">0000110000 - envoyé</tspan><tspan x="517.5" y="740.5">0000110000 - reçu</tspan><tspan x="517.5" y="746.3">0000110000 - non</tspan><tspan x="517.5" y="752.1">évalué</tspan></text></g>
<g id="n76" class="d"><rect x="395" y="789" width="51" height="13"/><text x="420.5" y="797">Jours ouvrables &gt; 30 ?</text></g>
<g id="n77" class="l"><rect x="458" y="775" width="54" height="42"/><text><tspan x="485" y="783">Relance</tspan><tspan x="485" y="788.8">00001100001110 -</tspan><tspan x="485" y="794.6">envoyé</tspan><tspan x="485" y="800.4">00001100001110 - reçu</tspan><tspan x="485" y="806.2">00001100001110 -</tspan><tspan x="485" y="812">non évalué</tspan></text></g>
<g id="n78" class="d"><rect x="361" y="848" width="53" height="14"/><text x="387.5" y="856.5">Jours ouvrables &gt;= 60 ?</text></g>
<g id="n79" class="l"><rect x="426" y="834" width="55" height="41"/><text><tspan x="453.5" y="841.5">Relance</tspan><tspan x="453.5" y="847.3">00001100001111 -</tspan><tspan x="453.5" y="853.1">envoyé</tspan><tspan x="453.5" y="858.9">00001100001111 - reçu</tspan><tspan x="453.5" y="864.7">00001100001111 -</tspan><tspan x="453.5" y="870.5">non évalué</tspan></text></g>
<g id="n80" class="d"><rect x="310" y="910" width="38" height="13"/><text x="329" y="918">Score &lt; 5000 ?</text></g>
<g id="n81" class="d"><rect x="428" y="910" width="43" height="13"/><text x="449.5" y="918">Garantie active ?</text></g>
<g id="n82" class="l"><rect x="268" y="958" width="55" height="48"/><text><tspan x="295.5" y="966.1">Contentieux</tspan><tspan x="295.5" y="971.9">0000110000111000 -</tspan><tspan x="295.5" y="977.7">envoyé</tspan><tspan x="295.5" y="983.5">0000110000111000 -</tspan><tspan x="295.5" y="989.3">reçu</tspan><tspan x="295.5" y="995.1">0000110000111000 -</tspan><tspan x="295.5" y="1000.9">non évalué</tspan></text></g>
<g id="n83" class="l"><rect x="335" y="958" width="55" height="48"/><text><tspan x="362.5" y="966.1">Mise en demeure envoyée</tspan><tspan x="362.5" y="971.9">0000110000111100 -</tspan><tspan x="362.5" y="977.7">envoyé</tspan><tspan x="362.5" y="983.5">0000110000111100 -</tspan><tspan x="362.5" y="989.3">reçu</tspan><tspan x="362.5" y="995.1">0000110000111100 -</tspan><tspan x="362.5" y="1000.9">non évalué</tspan></text></g>
<g id="n84" class="d"><rect x="402" y="975" width="38" height="13"/><text x="421" y="983">Score &gt; 4000 ?</text></g>
<g id="n85" class="l"><rect x="452" y="958" width="55" height="48"/><text><tspan x="479.5" y="966.1">Injonction</tspan><tspan x="479.5" y="971.9">0000110000111110 -</tspan><tspan x="479.5" y="977.7">envoyé</tspan><tspan x="479.5" y="983.5">0000110000111110 -</tspan><tspan x="479.5" y="989.3">reçu</tspan><tspan x="479.5" y="995.1">0000110000111110 -</tspan><tspan x="479.5" y="1000.9">non évalué</tspan></text></g>
<g id="n86" class="l"><rect x="361" y="1023" width="54" height="48"/><text><tspan x="388" y="1031.1">Assignation</tspan><tspan x="388" y="1036.9">0000110000110000 -</tspan><tspan x="388" y="1042.7">envoyé</tspan><tspan x="388" y="1048.5">0000110000110000 -</tspan><tspan x="388" y="1054.3">reçu</tspan><tspan x="388" y="1060.1">0000110000110000 -</tspan><tspan x="388" y="1065.9">non évalué</tspan></text></g>
<g id="n87" class="l"><rect x="427" y="1023" width="54" height="48"/><text><tspan x="454" y="1031.1">Mise en demeure envoyée</tspan><tspan x="454" y="1036.9">0000110000110011 -</tspan><tspan x="454" y="1042.7">envoyé</tspan><tspan x="454" y="1048.5">0000110000110011 -</tspan><tspan x="454" y="1054.3">reçu</tspan><tspan x="454" y="1060.1">0000110000110011 -</tspan><tspan x="454" y="1065.9">non évalué</tspan></text></g>
<g id="n88" class="l"><rect x="355" y="721" width="55" height="36"/><text><tspan x="382.5" y="728.9">Mise en demeure envoyée</tspan><tspan x="382.5" y="734.7">0000110011 - envoyé</tspan><tspan x="382.5" y="740.5">0000110011 - reçu</tspan><tspan x="382.5" y="746.3">0000110011 - non</tspan><tspan x="382.5" y="752.1">évalué</tspan></text></g>
<g id="n89" class="l"><rect x="265" y="775" width="55" height="42"/><text><tspan x="292.5" y="783">Mise en demeure envoyée</tspan><tspan x="292.5" y="788.8">00001100001100 -</tspan><tspan x="292.5" y="794.6">envoyé</tspan><tspan x="292.5" y="800.4">00001100001100 - reçu</tspan><tspan x="292.5" y="806.2">00001100001100 -</tspan><tspan x="292.5" y="812">non évalué</tspan></text></g>
<g id="n90" class="l"><rect x="202" y="561" width="54" height="35"/><text><tspan x="229" y="568.4">Aucune action</tspan><tspan x="229" y="574.2">0000110000 - envoyé</tspan><tspan x="229" y="580">0000110000 - reçu</tspan><tspan x="229" y="585.8">0000110000 - non</tspan><tspan x="229" y="591.6">évalué</tspan></text></g>
<g id="n91" class="d"><rect x="268" y="572" width="36" height="13"/><text x="286" y="580">Relance &lt; 3 ?</text></g>
<g id="n92" class="l"><rect x="358" y="614" width="55" height="36"/><text><tspan x="385.5" y="621.9">Rappel</tspan><tspan x="385.5" y="627.7">0000110111 - envoyé</tspan><tspan x="385.5" y="633.5">0000110111 - reçu</tspan><tspan x="385.5" y="639.3">0000110111 - non</tspan><tspan x="385.5" y="645.1">évalué</tspan></text></g>
<g id="n93" class="d"><rect x="219" y="623" width="62" height="19"/><text><tspan x="250" y="631.4">20 jours depuis la dernière</tspan><tspan x="250" y="636.6">action ?</tspan></text></g>
<g id="n94" class="l"><rect x="192" y="668" width="55" height="35"/><text><tspan x="219.5" y="675.4">Aucune action</tspan><tspan x="219.5" y="681.2">0000110000 - envoyé</tspan><tspan x="219.5" y="687">0000110000 - reçu</tspan><tspan x="219.5" y="692.8">0000110000 - non</tspan><tspan x="219.5" y="698.6">évalué</tspan></text></g>
<g id="n95" class="d"><rect x="259" y="679" width="46" height="13"/><text x="282" y="687">Complétion &lt; 0,5 ?</text></g>
<g id="n96" class="d"><rect x="167" y="733" width="49" height="13"/><text x="191.5" y="741">Prix unitaire &gt;= 50 ?</text></g>
<g id="n97" class="d"><rect x="132" y="789" width="52" height="13"/><text x="158" y="797">Jours ouvrables &gt;= 30 ?</text></g>
<g id="n98" class="d"><rect x="66" y="848" width="53" height="14"/><text x="92.5" y="856.5">Jours ouvrables &gt;= 60 ?</text></g>
<g id="n99" class="d"><rect x="203" y="848" width="44" height="14"/><text x="225" y="856.5">Garantie active ?</text></g>
<g id="n100" class="d"><rect x="43" y="911" width="38" height="12"/><text x="62" y="918.5">Score &gt; 4000 ?</text></g>
<g id="n101" class="l"><rect x="101" y="893" width="55" height="47"/><text><tspan x="128.5" y="900.6">Assignation</tspan><tspan x="128.5" y="906.4">0000110000111000 -</tspan><tspan x="128.5" y="912.2">envoyé</tspan><tspan x="128.5" y="918">0000110000111000 -</tspan><tspan x="128.5" y="923.8">reçu</tspan><tspan x="128.5" y="929.6">0000110000111000 -</tspan><tspan x="128.5" y="935.4">non évalué</tspan></text></g>
<g id="n102" class="d"><rect x="176" y="911" width="39" height="12"/><text x="195.5" y="918.5">Score &gt; 4000 ?</text></g>
<g id="n103" class="l"><rect x="235" y="893" width="55" height="47"/><text><tspan x="262.5" y="900.6">Mise en demeure envoyée</tspan><tspan x="262.5" y="906.4">0000110000110000 -</tspan><tspan x="262.5" y="912.2">envoyé</tspan><tspan x="262.5" y="918">0000110000110000 -</tspan><tspan x="262.5" y="923.8">reçu</tspan><tspan x="262.5" y="929.6">0000110000110000 -</tspan><tspan x="262.5" y="935.4">non évalué</tspan></text></g>
<g id="n104" class="l"><rect x="2" y="958" width="55" height="48"/><text><tspan x="29.5" y="966.1">Contentieux</tspan><tspan x="29.5" y="971.9">0000110000111000 -</tspan><tspan x="29.5" y="977.7">envoyé</tspan><tspan x="29.5" y="983.5">0000110000111000 -</tspan><tspan x="29.5" y="989.3">reçu</tspan><tspan x="29.5" y="995.1">0000110000111000 -</tspan><tspan x="29.5" y="1000.9">non évalué</tspan></text></g>
<g id="n105" class="l"><rect x="69" y="958" width="54" height="48"/><text><tspan x="96" y="966.1">Mise en demeure envoyée</tspan><tspan x="96" y="971.9">0000110000110011 -</tspan><tspan x="96" y="977.7">envoyé</tspan><tspan x="96" y="983.5">0000110000110011 -</tspan><tspan x="96" y="989.3">reçu</tspan><tspan x="96" y="995.1">0000110000110011 -</tspan><tspan x="96" y="1000.9">non évalué</tspan></text></g>
<g id="n106" class="l"><rect x="135" y="958" width="55" height="48"/><text><tspan x="162.5" y="966.1">Injonction</tspan><tspan x="162.5" y="971.9">0000110000111110 -</tspan><tspan x="162.5" y="977.7">envoyé</tspan><tspan x="162.5" y="983.5">0000110000111110 -</tspan><tspan x="162.5" y="989.3">reçu</tspan><tspan x="162.5" y="995.1">0000110000111110 -</tspan><tspan x="162.5" y="1000.9">non évalué</tspan></text></g>
<g id="n107" class="l"><rect x="202" y="958" width="55" height="48"/><text><tspan x="229.5" y="966.1">Mise en demeure envoyée</tspan><tspan x="229.5" y="971.9">0000110000111100 -</tspan><tspan x="229.5" y="977.7">envoyé</tspan><tspan x="229.5" y="983.5">0000110000111100 -</tspan><tspan x="229.5" y="989.3">reçu</tspan><tspan x="229.5" y="995.1">0000110000111100 -</tspan><tspan x="229.5" y="1000.9">non évalué</tspan></text></g>
<g id="n108" class="o"><rect x="273" y="289" width="60" height="14"/><text x="303" y="297.5">Dernière action = relance ?</text></g>
<g id="n109" class="o"><rect x="234" y="326" width="61" height="13"/><text x="264.5" y="334">Première action = relance ?</text></g>
<g id="n110" class="d"><rect x="397" y="326" width="38" height="12"/><text x="416" y="333.5">État = envoyé ?</text></g>
<g id="n111" class="l"><rect x="249" y="362" width="31" height="18"/><text><tspan x="264.5" y="369.6">Aucune action</tspan><tspan x="264.5" y="375.4">00001100</tspan></text></g>
<g id="n112" class="d"><rect x="292" y="364" width="41" height="13"/><text x="312.5" y="372">État = envoyé ?</text></g>
<g id="n113" class="d"><rect x="210" y="404" width="35" height="12"/><text x="227.5" y="411.5">Délai &lt; 24h ?</text></g>
<g id="n114" class="d"><rect x="179" y="457" width="49" height="12"/><text x="203.5" y="464.5">État = non délivré ?</text></g>
<g id="n115" class="l"><rect x="182" y="515" width="32" height="19"/><text><tspan x="198" y="523.1">Aucune action</tspan><tspan x="198" y="528.9">00001100</tspan></text></g>
<g id="n116" class="d"><rect x="227" y="516" width="61" height="19"/><text><tspan x="257.5" y="524.4">20 jours depuis la dernière</tspan><tspan x="257.5" y="529.6">action ?</tspan></text></g>
<g id="n117" class="d"><rect x="399" y="365" width="36" height="12"/><text x="417" y="372.5">État = reçu ?</text></g>
<g id="n118" class="d"><rect x="392" y="404" width="48" height="12"/><text x="416" y="411.5">État = non délivré ?</text></g>
</g>
</svg>
